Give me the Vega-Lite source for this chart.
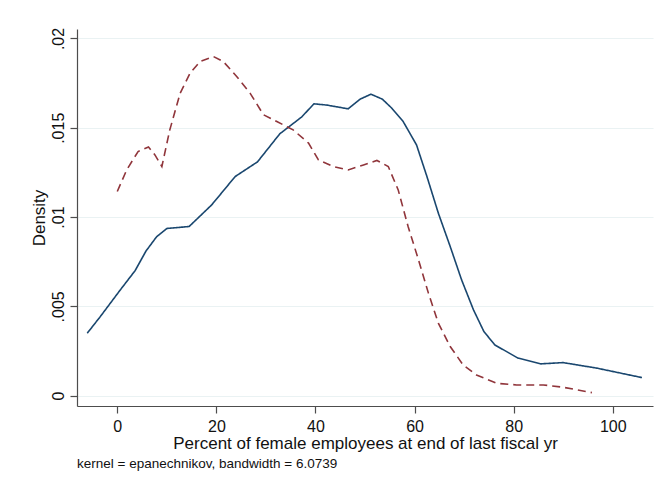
{
  "$schema": "https://vega.github.io/schema/vega-lite/v6.json",
  "autosize": "none",
  "width": 576,
  "height": 377,
  "padding": {"left": 77, "top": 29, "right": 3, "bottom": 79},
  "background": "white",
  "config": {
    "view": {"stroke": null},
    "font": "Liberation Sans",
    "axis": {"labelFont": "Liberation Sans", "titleFont": "Liberation Sans", "labelColor": "#111", "titleColor": "#111", "titleFontWeight": "normal", "domainColor": "#4d4d4d", "tickColor": "#4d4d4d", "domainWidth": 1.2, "tickWidth": 1.2}
  },
  "title": {"text": "kernel = epanechnikov, bandwidth = 6.0739", "orient": "bottom", "anchor": "start", "frame": "group", "fontSize": 13.5, "fontWeight": "normal", "font": "Liberation Sans", "color": "#111", "offset": 6},
  "data": {"values": [
    {"x": -6.05, "density": 0.0035, "series": "A"},
    {"x": -3.5, "density": 0.0044, "series": "A"},
    {"x": 0.55, "density": 0.0059, "series": "A"},
    {"x": 3.6, "density": 0.007, "series": "A"},
    {"x": 5.8, "density": 0.0081, "series": "A"},
    {"x": 7.95, "density": 0.0089, "series": "A"},
    {"x": 10.0, "density": 0.00936, "series": "A"},
    {"x": 14.5, "density": 0.00947, "series": "A"},
    {"x": 19.05, "density": 0.01068, "series": "A"},
    {"x": 23.8, "density": 0.01227, "series": "A"},
    {"x": 28.3, "density": 0.01309, "series": "A"},
    {"x": 32.8, "density": 0.01466, "series": "A"},
    {"x": 37.2, "density": 0.0156, "series": "A"},
    {"x": 39.7, "density": 0.01634, "series": "A"},
    {"x": 42.3, "density": 0.01627, "series": "A"},
    {"x": 46.6, "density": 0.01606, "series": "A"},
    {"x": 49.0, "density": 0.0166, "series": "A"},
    {"x": 51.2, "density": 0.01688, "series": "A"},
    {"x": 53.5, "density": 0.01660, "series": "A"},
    {"x": 55.4, "density": 0.0161, "series": "A"},
    {"x": 57.7, "density": 0.01535, "series": "A"},
    {"x": 60.4, "density": 0.01404, "series": "A"},
    {"x": 62.5, "density": 0.01227, "series": "A"},
    {"x": 64.8, "density": 0.01022, "series": "A"},
    {"x": 67.2, "density": 0.00835, "series": "A"},
    {"x": 69.5, "density": 0.00648, "series": "A"},
    {"x": 71.9, "density": 0.0048, "series": "A"},
    {"x": 74.0, "density": 0.00359, "series": "A"},
    {"x": 76.2, "density": 0.00284, "series": "A"},
    {"x": 80.9, "density": 0.0021, "series": "A"},
    {"x": 85.5, "density": 0.00178, "series": "A"},
    {"x": 90.0, "density": 0.00185, "series": "A"},
    {"x": 96.8, "density": 0.00154, "series": "A"},
    {"x": 105.9, "density": 0.00101, "series": "A"},
    {"x": 0.0, "density": 0.01143, "series": "B"},
    {"x": 1.9, "density": 0.01264, "series": "B"},
    {"x": 4.2, "density": 0.01367, "series": "B"},
    {"x": 6.3, "density": 0.01392, "series": "B"},
    {"x": 7.6, "density": 0.01348, "series": "B"},
    {"x": 9.0, "density": 0.01283, "series": "B"},
    {"x": 10.6, "density": 0.01488, "series": "B"},
    {"x": 12.7, "density": 0.01694, "series": "B"},
    {"x": 14.7, "density": 0.01806, "series": "B"},
    {"x": 16.7, "density": 0.01871, "series": "B"},
    {"x": 19.4, "density": 0.01899, "series": "B"},
    {"x": 21.4, "density": 0.01871, "series": "B"},
    {"x": 24.1, "density": 0.01787, "series": "B"},
    {"x": 26.8, "density": 0.01694, "series": "B"},
    {"x": 29.5, "density": 0.01573, "series": "B"},
    {"x": 32.2, "density": 0.01535, "series": "B"},
    {"x": 35.5, "density": 0.01488, "series": "B"},
    {"x": 38.6, "density": 0.01414, "series": "B"},
    {"x": 40.6, "density": 0.0132, "series": "B"},
    {"x": 43.6, "density": 0.01283, "series": "B"},
    {"x": 46.6, "density": 0.01264, "series": "B"},
    {"x": 49.7, "density": 0.01292, "series": "B"},
    {"x": 52.4, "density": 0.01317, "series": "B"},
    {"x": 54.7, "density": 0.01283, "series": "B"},
    {"x": 56.7, "density": 0.01152, "series": "B"},
    {"x": 58.7, "density": 0.00947, "series": "B"},
    {"x": 60.8, "density": 0.0076, "series": "B"},
    {"x": 62.8, "density": 0.00574, "series": "B"},
    {"x": 64.8, "density": 0.00406, "series": "B"},
    {"x": 67.2, "density": 0.00275, "series": "B"},
    {"x": 69.8, "density": 0.00172, "series": "B"},
    {"x": 72.5, "density": 0.00116, "series": "B"},
    {"x": 76.6, "density": 0.00069, "series": "B"},
    {"x": 80.6, "density": 0.0006, "series": "B"},
    {"x": 86.0, "density": 0.0006, "series": "B"},
    {"x": 90.0, "density": 0.00047, "series": "B"},
    {"x": 95.8, "density": 0.00017, "series": "B"}
  ]},
  "mark": {"type": "line", "strokeWidth": 1.6, "interpolate": "linear"},
  "encoding": {
    "x": {"field": "x", "type": "quantitative",
      "scale": {"domain": [-8.13, 108.13], "nice": false, "zero": false},
      "axis": {"title": "Percent of female employees at end of last fiscal yr", "values": [0, 20, 40, 60, 80, 100], "grid": false, "tickSize": 7, "labelPadding": 5, "labelFontSize": 16, "titleFontSize": 17, "titlePadding": 1}},
    "y": {"field": "density", "type": "quantitative",
      "scale": {"domain": [-0.00058, 0.02053], "nice": false, "zero": false},
      "axis": {"title": "Density", "values": [0, 0.005, 0.01, 0.015, 0.02], "labelExpr": "datum.value == 0 ? '0' : substring(format(datum.value, '.3~f'), 1)", "labelAngle": 270, "labelAlign": "center", "labelBaseline": "bottom", "grid": true, "gridColor": "#eaf2f3", "gridWidth": 1.2, "tickSize": 7, "labelPadding": 4, "labelFontSize": 16, "titleFontSize": 17, "titlePadding": 2}},
    "color": {"field": "series", "type": "nominal", "scale": {"domain": ["A", "B"], "range": ["#1a476f", "#90353b"]}, "legend": null},
    "strokeDash": {"field": "series", "type": "nominal", "scale": {"domain": ["A", "B"], "range": [[1, 0], [8, 5]]}, "legend": null}
  }
}
